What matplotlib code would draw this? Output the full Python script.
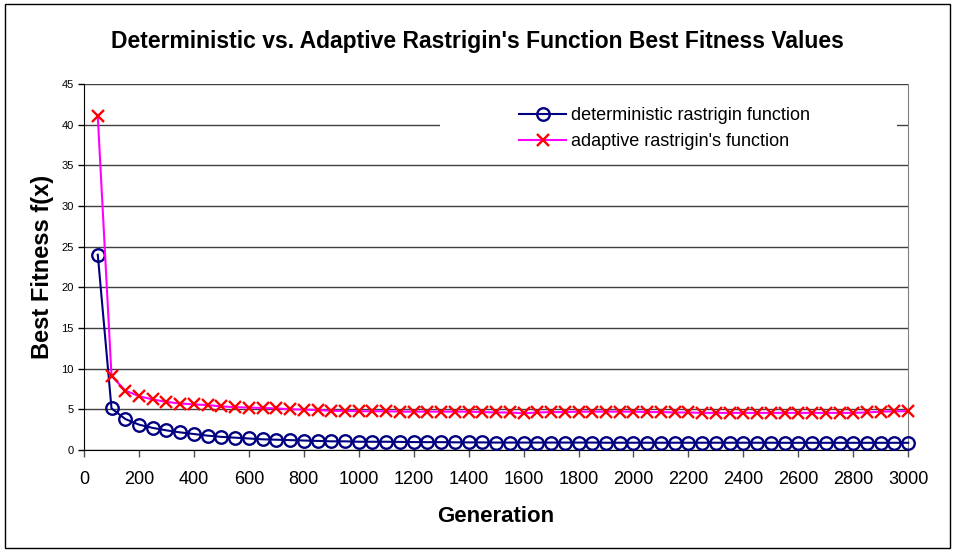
import numpy as np
import matplotlib.pyplot as plt
from matplotlib.patches import Rectangle

plt.rcParams['font.family'] = ['Liberation Sans', 'DejaVu Sans']

# generations 50..3000, step 50
generation = list(range(50, 3001, 50))

deterministic = [24.0, 5.1, 3.8, 3.1, 2.7, 2.4, 2.15, 1.95, 1.75, 1.6,
                 1.5, 1.4, 1.3, 1.25, 1.2, 1.15, 1.1, 1.05, 1.05, 1.0,
                 1.0, 1.0, 0.98, 0.96, 0.95, 0.95, 0.93, 0.92, 0.92, 0.9,
                 0.9, 0.9, 0.9, 0.9, 0.9, 0.9, 0.9, 0.88, 0.88, 0.88,
                 0.88, 0.88, 0.88, 0.88, 0.88, 0.88, 0.88, 0.88, 0.88, 0.88,
                 0.87, 0.87, 0.87, 0.87, 0.87, 0.87, 0.87, 0.87, 0.87, 0.87]

adaptive = [41.0, 9.1, 7.3, 6.6, 6.2, 5.9, 5.7, 5.6, 5.5, 5.35,
            5.25, 5.2, 5.15, 5.1, 5.0, 4.95, 4.9, 4.8, 4.8, 4.75,
            4.75, 4.75, 4.7, 4.7, 4.7, 4.7, 4.7, 4.7, 4.65, 4.6,
            4.6, 4.5, 4.6, 4.65, 4.65, 4.7, 4.7, 4.7, 4.7, 4.7,
            4.65, 4.65, 4.6, 4.6, 4.55, 4.55, 4.55, 4.55, 4.55, 4.55,
            4.55, 4.55, 4.55, 4.55, 4.55, 4.55, 4.6, 4.7, 4.75, 4.75]

fig = plt.figure(figsize=(9.55, 5.52), dpi=100)
ax = fig.add_axes([0.088, 0.185, 0.863, 0.663])

# outer chart border
fig.patches.append(Rectangle((0.005, 0.007), 0.99, 0.985, transform=fig.transFigure,
                             fill=False, edgecolor='black', lw=1))

ax.set_yticks(np.arange(0, 46, 5))
ax.yaxis.grid(True, color='#404040', lw=1)
ax.set_axisbelow(True)

# white legend area (hides the gridline behind it, as in excel)
ax.add_patch(Rectangle((0.432, 0.79), 0.555, 0.175, transform=ax.transAxes,
                       facecolor='white', edgecolor='none', zorder=1.5))

ax.plot(generation, deterministic, color='#000080', lw=1.5, marker='o',
        markersize=9, markerfacecolor='none', markeredgecolor='#000080',
        markeredgewidth=1.7, label='deterministic rastrigin function', clip_on=False, zorder=3)
ax.plot(generation, adaptive, color='#ff00ff', lw=1.5, marker='x',
        markersize=9, markeredgecolor='red', markeredgewidth=1.7,
        label="adaptive rastrigin's function", clip_on=False, zorder=3)

ax.set_xlim(0, 3000)
ax.set_ylim(0, 45)
ax.set_xticks(np.arange(0, 3001, 200))
ax.tick_params(axis='x', labelsize=13, direction='out', length=5, width=1, color='#505050', pad=10)
ax.tick_params(axis='y', labelsize=8, direction='out', length=4, width=1)

ax.spines['top'].set_visible(False)
ax.spines['right'].set_color('gray')
ax.spines['left'].set_color('black')
ax.spines['bottom'].set_color('black')

ax.set_xlabel('Generation', fontsize=16, fontweight='bold', labelpad=13)
ax.set_ylabel('Best Fitness f(x)', fontsize=17, fontweight='bold', labelpad=5)
fig.text(0.5, 0.924, "Deterministic vs. Adaptive Rastrigin's Function Best Fitness Values",
         ha='center', va='center', fontsize=16.5, fontweight='bold')

leg = ax.legend(loc='upper left', bbox_to_anchor=(0.506, 0.985), frameon=False,
                fontsize=13, handlelength=2.6, borderpad=0.5, labelspacing=0.5,
                handletextpad=0.3)

fig.savefig('out.png', dpi=100)
